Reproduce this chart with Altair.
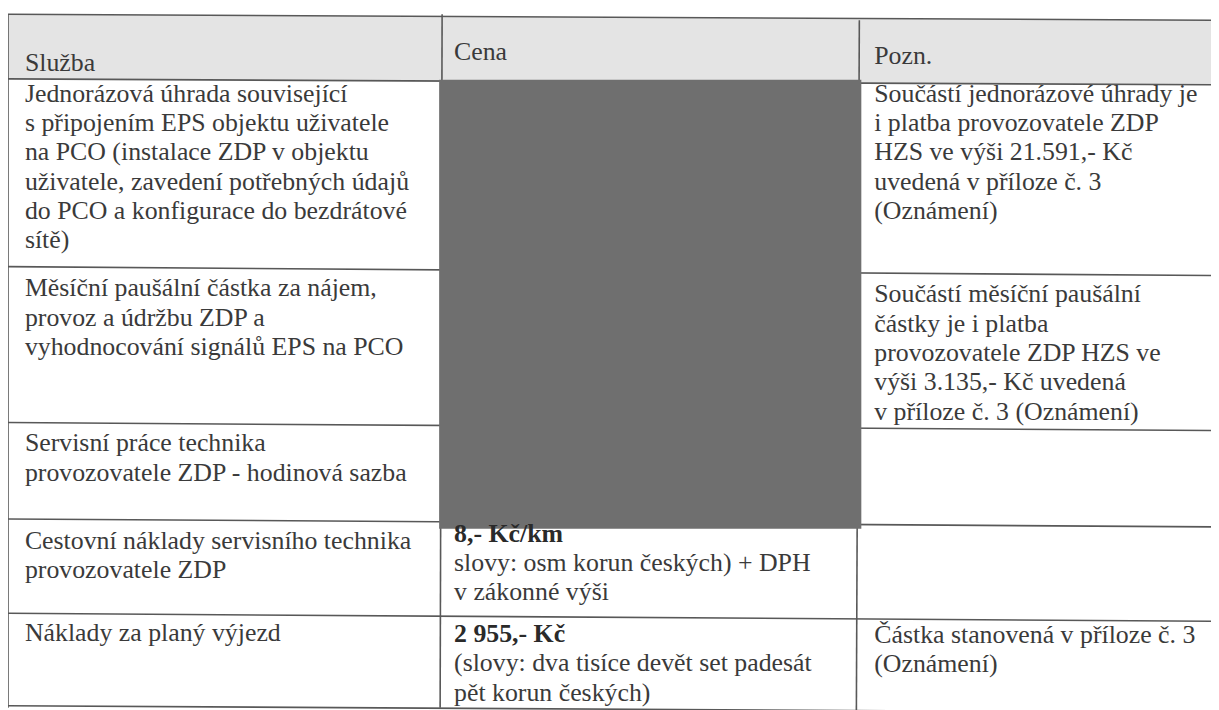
import altair as alt
import pandas as pd

# ---------------- content (text of the table) ----------------
header_labels = ["Služba", "Cena", "Pozn."]

service_lines = [
    ["Jednorázová úhrada související",
     "s připojením EPS objektu uživatele",
     "na PCO (instalace ZDP v objektu",
     "uživatele, zavedení potřebných údajů",
     "do PCO a konfigurace do bezdrátové",
     "sítě)"],
    ["Měsíční paušální částka za nájem,",
     "provoz a údržbu ZDP a",
     "vyhodnocování signálů EPS na PCO"],
    ["Servisní práce technika",
     "provozovatele ZDP - hodinová sazba"],
    ["Cestovní náklady servisního technika",
     "provozovatele ZDP"],
    ["Náklady za planý výjezd"],
]

price_amounts = [None, None, None, "8,- Kč/km", "2 955,- Kč"]
price_words = [
    [], [], [],
    ["slovy: osm korun českých) + DPH", "v zákonné výši"],
    ["(slovy: dva tisíce devět set padesát", "pět korun českých)"],
]

note_lines = [
    ["Součástí jednorázové úhrady je",
     "i platba provozovatele ZDP",
     "HZS ve výši 21.591,- Kč",
     "uvedená v příloze č. 3",
     "(Oznámení)"],
    ["Součástí měsíční paušální",
     "částky je i platba",
     "provozovatele ZDP HZS ve",
     "výši 3.135,- Kč uvedená",
     "v příloze č. 3 (Oznámení)"],
    [],
    [],
    ["Částka stanovená v příloze č. 3",
     "(Oznámení)"],
]

# ---------------- layout (page-pixel coordinates) ----------------
X_LEFT, X_RIGHT = 8, 1219
TEXT_X = [25, 457, 880]
HEADER_BASE = [69, 58, 62]
FIRST_BASE = [
    [100, 296, 452, 550, 643],      # Služba column
    [None, None, None, 543, 644],   # Cena column
    [100, 302, None, None, 645],    # Pozn. column
]
LH = 29.5
FONT = "'Liberation Serif', 'Times New Roman', Tinos, 'DejaVu Serif', serif"
FS = 26
INK = "#3a3a3a"
LINE = "#585858"

# horizontal rules (y at left edge, y at right edge) - scan is slightly skewed
h_rules = [(12, 18), (77, 83), (266, 275), (423, 431), (520, 528), (615, 623), (708, 715)]
# vertical rules (x top, y top, x bottom, y bottom)
v_rules = [(8, 12, 8, 710), (445, 12, 443, 710), (865, 18, 862, 716)]

# ---------------- build tables ----------------
texts = []
for c, lab in enumerate(header_labels):
    texts.append({"x": TEXT_X[c], "y": HEADER_BASE[c], "t": lab, "w": "normal"})

for r, lines in enumerate(service_lines):
    for i, s in enumerate(lines):
        texts.append({"x": TEXT_X[0], "y": FIRST_BASE[0][r] + i * LH, "t": s, "w": "normal"})

for r in range(len(price_amounts)):
    if price_amounts[r] is None:
        continue
    texts.append({"x": TEXT_X[1], "y": FIRST_BASE[1][r], "t": price_amounts[r], "w": "bold"})
    for i, s in enumerate(price_words[r]):
        texts.append({"x": TEXT_X[1], "y": FIRST_BASE[1][r] + (i + 1) * LH, "t": s, "w": "normal"})

for r, lines in enumerate(note_lines):
    for i, s in enumerate(lines):
        texts.append({"x": TEXT_X[2], "y": FIRST_BASE[2][r] + i * LH, "t": s, "w": "normal"})

text_df = pd.DataFrame(texts)

rules = [{"x": X_LEFT, "y": yl, "x2": X_RIGHT, "y2": yr} for yl, yr in h_rules]
rules += [{"x": a, "y": b, "x2": c, "y2": d} for a, b, c, d in v_rules]
rule_df = pd.DataFrame(rules)

header_df = pd.DataFrame({"x": [X_LEFT, X_RIGHT], "y": [h_rules[0][0], h_rules[0][1]],
                          "y2": [h_rules[1][0], h_rules[1][1]]})

redact_df = pd.DataFrame({"x": [442], "x2": [867], "y": [78], "y2": [530]})

xs = alt.Scale(domain=[8, 1219], nice=False, zero=False)
ys = alt.Scale(domain=[8, 710], reverse=True, nice=False, zero=False)

header_band = alt.Chart(header_df).mark_area(color="#e4e4e4").encode(
    x=alt.X("x:Q", scale=xs, axis=None),
    y=alt.Y("y:Q", scale=ys, axis=None),
    y2="y2:Q",
)

rule_layer = alt.Chart(rule_df).mark_rule(color=LINE, strokeWidth=1.6).encode(
    x=alt.X("x:Q", scale=xs, axis=None),
    y=alt.Y("y:Q", scale=ys, axis=None),
    x2="x2:Q",
    y2="y2:Q",
)

redact = alt.Chart(redact_df).mark_rect(color="#6f6f6f").encode(
    x=alt.X("x:Q", scale=xs, axis=None),
    x2="x2:Q",
    y=alt.Y("y:Q", scale=ys, axis=None),
    y2="y2:Q",
)

normal_text = alt.Chart(text_df).transform_filter(alt.datum.w == "normal").mark_text(
    font=FONT, fontSize=FS, color=INK, align="left", baseline="alphabetic"
).encode(
    x=alt.X("x:Q", scale=xs, axis=None),
    y=alt.Y("y:Q", scale=ys, axis=None),
    text="t:N",
)

bold_text = alt.Chart(text_df).transform_filter(alt.datum.w == "bold").mark_text(
    font=FONT, fontSize=FS, color="#2a2a2a", fontWeight="bold", align="left", baseline="alphabetic"
).encode(
    x=alt.X("x:Q", scale=xs, axis=None),
    y=alt.Y("y:Q", scale=ys, axis=None),
    text="t:N",
)

chart = alt.layer(header_band, rule_layer, redact, normal_text, bold_text).properties(
    width=1211, height=702,
    autosize=alt.AutoSizeParams(type="none"),
    padding=0,
    background="white",
).configure_view(strokeWidth=0)

chart.save("out.html", embed_options={"renderer": "svg", "actions": False})
